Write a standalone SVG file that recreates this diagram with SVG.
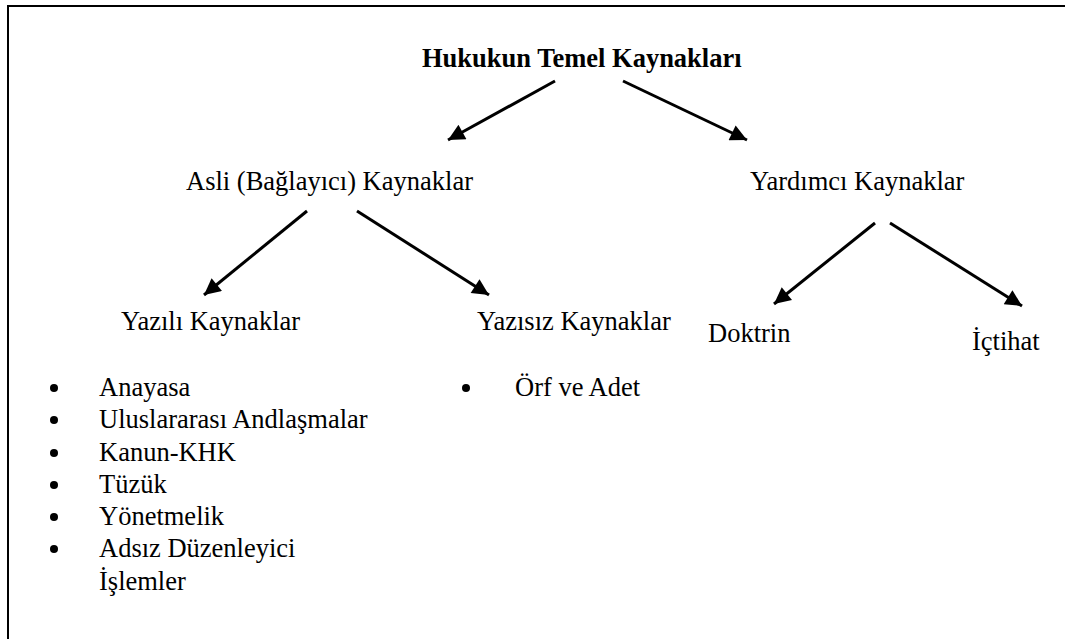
<svg xmlns="http://www.w3.org/2000/svg" width="1065" height="639" viewBox="0 0 1065 639">
  <defs>
    <marker id="arr" viewBox="0 0 10 10" refX="10" refY="5" markerWidth="6" markerHeight="5.5" markerUnits="strokeWidth" orient="auto">
      <path d="M0,0 L10,5 L0,10 z" fill="#000"/>
    </marker>
    <style>
      .t { font-family: "Liberation Serif", Tinos, "Times New Roman", "DejaVu Serif", serif; font-size: 26.5px; fill: #000; }
      .b { font-weight: bold; }
      .c { stroke: #000; stroke-width: 3; fill: none; marker-end: url(#arr); }
      .frame { stroke: #000; stroke-width: 2; fill: none; }
    </style>
  </defs>
  <rect width="1065" height="639" fill="#fff"/>
  <path class="frame" d="M8,640 L8,6 L1066,6"/>

  <g id="connectors">
    <line class="c" x1="555" y1="81" x2="448" y2="140"/>
    <line class="c" x1="623" y1="81" x2="747" y2="140"/>
    <line class="c" x1="307" y1="211" x2="204" y2="295"/>
    <line class="c" x1="357" y1="211" x2="489" y2="295"/>
    <line class="c" x1="875" y1="223" x2="774" y2="304"/>
    <line class="c" x1="890" y1="223" x2="1022" y2="306"/>
  </g>

  <g id="root"><text class="t b" x="422" y="67">Hukukun Temel Kaynakları</text></g>
  <g id="asli"><text class="t" x="186" y="190">Asli (Bağlayıcı) Kaynaklar</text></g>
  <g id="yardimci"><text class="t" x="750" y="190">Yardımcı Kaynaklar</text></g>
  <g id="yazili"><text class="t" x="121" y="330">Yazılı Kaynaklar</text></g>
  <g id="yazisiz"><text class="t" x="477" y="330">Yazısız Kaynaklar</text></g>
  <g id="doktrin"><text class="t" x="708" y="342">Doktrin</text></g>
  <g id="ictihat"><text class="t" x="972" y="350">İçtihat</text></g>

  <g id="yazili-list">
    <circle cx="54" cy="388" r="4"/>
    <text class="t" x="99" y="396">Anayasa</text>
    <circle cx="54" cy="420" r="4"/>
    <text class="t" x="99" y="428">Uluslararası Andlaşmalar</text>
    <circle cx="54" cy="453" r="4"/>
    <text class="t" x="99" y="461">Kanun-KHK</text>
    <circle cx="54" cy="485" r="4"/>
    <text class="t" x="99" y="493">Tüzük</text>
    <circle cx="54" cy="517" r="4"/>
    <text class="t" x="99" y="525">Yönetmelik</text>
    <circle cx="54" cy="549" r="4"/>
    <text class="t" x="99" y="557">Adsız Düzenleyici</text>
    <text class="t" x="99" y="590">İşlemler</text>
  </g>

  <g id="yazisiz-list">
    <circle cx="466" cy="388" r="4"/>
    <text class="t" x="515" y="396">Örf ve Adet</text>
  </g>
</svg>
